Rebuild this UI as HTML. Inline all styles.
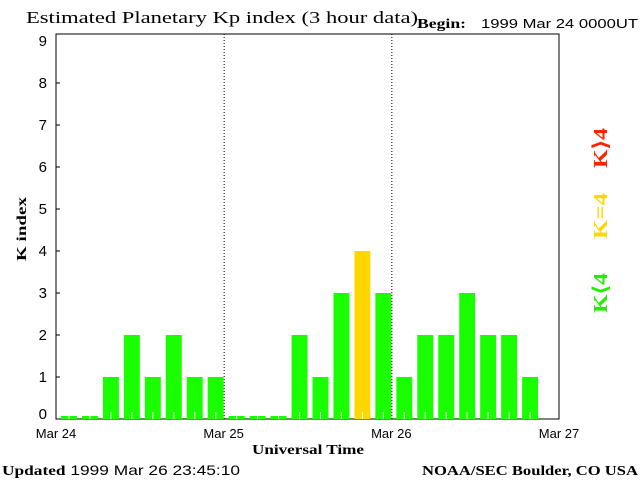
<!DOCTYPE html>
<html><head><meta charset="utf-8"><style>
body{margin:0;background:#fff}
svg text{font-family:"Liberation Sans",sans-serif}
.serif{font-family:"Liberation Serif",serif}
</style></head><body>
<svg width="640" height="480" xmlns="http://www.w3.org/2000/svg">
<rect width="640" height="480" fill="#fff"/>
<text class="serif" x="26" y="23" font-size="17" textLength="392" lengthAdjust="spacingAndGlyphs">Estimated Planetary Kp index (3 hour data)</text>
<text class="serif" x="417" y="28" font-size="14" font-weight="bold" textLength="49" lengthAdjust="spacingAndGlyphs">Begin:</text>
<text x="481" y="28" font-size="13" textLength="157" lengthAdjust="spacingAndGlyphs">1999 Mar 24 0000UT</text>
<rect x="56" y="34" width="503" height="385" fill="none" stroke="#000" stroke-width="1"/>
<g id="grid"></g>
<g id="bars"></g>
<g id="yt"></g>
<g id="xt"></g>
<text class="serif" x="252" y="454" font-size="14" font-weight="bold" textLength="112" lengthAdjust="spacingAndGlyphs">Universal Time</text>
<text class="serif" transform="translate(26,229) rotate(-90)" font-size="14" font-weight="bold" text-anchor="middle" textLength="64" lengthAdjust="spacingAndGlyphs">K index</text>
<text class="serif" transform="translate(607,148) rotate(-90)" font-size="20" font-weight="bold" fill="#ff2200" text-anchor="middle" textLength="40" lengthAdjust="spacingAndGlyphs">K⟩4</text>
<text class="serif" transform="translate(607,216) rotate(-90)" font-size="20" font-weight="bold" fill="#ffd700" text-anchor="middle" textLength="46" lengthAdjust="spacingAndGlyphs">K=4</text>
<text class="serif" transform="translate(607,293) rotate(-90)" font-size="20" font-weight="bold" fill="#22ee00" text-anchor="middle" textLength="40" lengthAdjust="spacingAndGlyphs">K⟨4</text>
<text x="2" y="475" font-size="14" textLength="238" lengthAdjust="spacingAndGlyphs"><tspan font-weight="bold" font-family="Liberation Serif">Updated</tspan> 1999 Mar 26 23:45:10</text>
<text class="serif" x="422" y="475" font-size="14" font-weight="bold" textLength="216" lengthAdjust="spacingAndGlyphs">NOAA/SEC Boulder, CO USA</text>
</svg>
<script>
const kpValues=[0,0,1,2,1,2,1,1, 0,0,0,2,1,3,4,3, 1,2,2,3,2,2,1];
const yTicks=[0,1,2,3,4,5,6,7,8,9];
const dayLabels=["Mar 24","Mar 25","Mar 26","Mar 27"];
const NS="http://www.w3.org/2000/svg";
const X0=56,X1=559,Y0=419,UNIT=42;
const slot=(X1-X0)/24;
const xs=i=>X0+i*slot;
const ys=v=>Y0-v*UNIT;
function mk(t,a,p){const e=document.createElementNS(NS,t);for(const k in a)e.setAttribute(k,a[k]);p.appendChild(e);return e;}
const bars=document.getElementById('bars');
kpValues.forEach((v,i)=>{
  const x=xs(i)+5,w=slot-5;
  const top=v===0?Y0-3:ys(v);
  const col=v<4?'#1aff00':(v===4?'#ffd700':'#ff2200');
  const r=mk('rect',{x:x,y:top,width:w,height:Y0-top,fill:col},bars);
  
  
  const m=mk('line',{x1:x+w/2,x2:x+w/2,y1:Y0,y2:Y0-(v===0?3:7),stroke:'#fff','stroke-width':1},bars);
  
  
});
const yt=document.getElementById('yt');
yTicks.forEach(v=>{
  const t=mk('text',{x:47,y:ys(v)+(v===0?0:5),'font-size':15,'text-anchor':'end'},yt);
  t.textContent=v;
  
  
  if(v>0&&v<9){const l=mk('line',{x1:X0,x2:X0+4,y1:ys(v),y2:ys(v),stroke:'#000'},yt);
  
  }
});
const grid=document.getElementById('grid'),xt=document.getElementById('xt');
dayLabels.forEach((d,i)=>{
  const x=X0+i*(X1-X0)/3;
  const t=mk('text',{x:x,y:438,'font-size':13,'text-anchor':'middle'},xt);
  t.textContent=d;
  
  
  if(i>0&&i<3){const l=mk('line',{x1:x+0.5,x2:x+0.5,y1:34,y2:Y0,stroke:'#000','stroke-dasharray':'1,2'},grid);
  
  }
});
</script>
</body></html>
